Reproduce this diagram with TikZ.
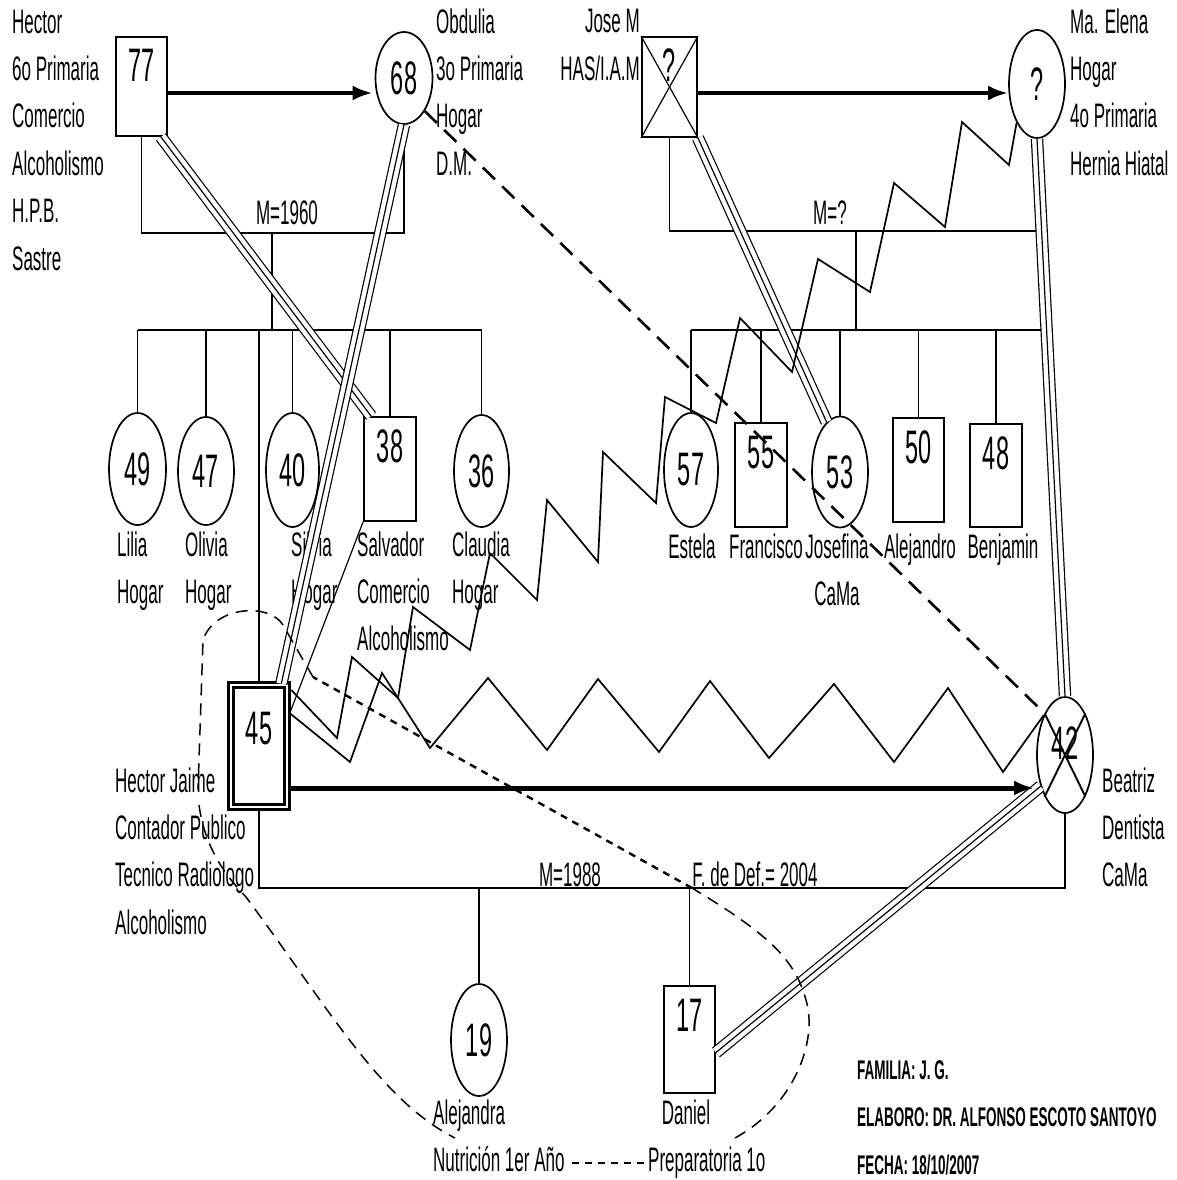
\documentclass[tikz,border=0pt]{standalone}
\usepackage{fontspec}
\setmainfont{Liberation Sans}[FakeStretch=0.5]
\usetikzlibrary{shapes.geometric,arrows.meta}

\newcommand{\lblfont}{\fontsize{34}{47.4}\selectfont}
\newcommand{\numfont}{\fontsize{47}{47}\selectfont}

\begin{document}
\begin{tikzpicture}[x=1pt, y=-1pt, >={Latex[length=20pt,width=15pt]},
    line/.style={line width=1.9pt},
    male/.style={draw, line width=1.9pt, rectangle, inner sep=0pt, minimum width=51pt,
        text height=45pt, text depth=#1, font=\numfont},
    female/.style={draw, line width=1.7pt, ellipse, inner sep=0pt, font=\numfont},
    lbl/.style={font=\lblfont, align=left, inner sep=0pt, anchor=base west},
    rel/.style={line width=4pt, ->},
    zig/.style={line width=1.7pt, line join=miter},
    fused/.style={line width=1.2pt, double, double distance=10pt},
    thinline/.style={line width=1.2pt},
    dist/.style={line width=2.6pt, dash pattern=on 17pt off 10pt},
    home/.style={line width=1.5pt, dash pattern=on 12pt off 8pt},
    homeshort/.style={line width=2.4pt, dash pattern=on 7pt off 6pt}]
    \useasboundingbox (0,0) rectangle (1177,1180);

    % ==== FIRST GENERATION ====
    \node[male=54] (b77) at (141.5,86.5) {77};
    \node[female, minimum width=57pt, minimum height=92pt] (c68) at (404,78) {68};
    \node[male=55, minimum width=55pt] (bJose) at (669.5,87) {?};
    \node[female, minimum width=56pt, minimum height=108pt] (cElena) at (1037,84) {?};
    \draw[thinline] (bJose.north west) -- (bJose.south east);
    \draw[thinline] (bJose.north east) -- (bJose.south west);

    % labels sit on the baseline of their last line
    \node[lbl] (tHector) at (12,270) {Hector\\6o Primaria\\Comercio\\Alcoholismo\\H.P.B.\\Sastre};
    \node[lbl] (tObdulia) at (436,175.2) {Obdulia\\3o Primaria\\Hogar\\D.M.};
    \node[lbl, align=right, anchor=base east] (tJose) at (640,80.4) {Jose M\\HAS/I.A.M};
    \node[lbl] (tElena) at (1070,175.2) {Ma. Elena\\Hogar\\4o Primaria\\Hernia Hiatal};

    % ==== SECOND GENERATION ====
    \node[female, minimum width=57pt, minimum height=112pt] (c49) at (137.5,469) {49};
    \node[female, minimum width=56pt, minimum height=108pt] (c47) at (206,471) {47};
    \node[female, minimum width=53pt, minimum height=114pt] (c40) at (292.5,470) {40};
    \node[male=59, minimum width=52pt] (b38) at (390,469) {38};
    \node[female, minimum width=55pt, minimum height=112pt] (c36) at (481.5,471) {36};
    \node[female, minimum width=54pt, minimum height=114pt] (c57) at (691,470) {57};
    \node[male=59, minimum width=52pt] (b55) at (761,475) {55};
    \node[female, minimum width=56pt, minimum height=111pt] (c53) at (840,472) {53};
    \node[male=59] (b50) at (918.5,470) {50};
    \node[male=58, minimum width=52pt] (b48) at (996,475.5) {48};
    \node[male=63, text height=59pt, minimum width=56pt, double, double distance=2pt,
        line width=2.6pt] (b45) at (259,746) {45};
    \node[female, minimum width=56pt, minimum height=116pt, text depth=24pt] (c42) at (1065,755) {42};
    \draw[line] (c42.north west) -- (c42.south east);
    \draw[line] (c42.north east) -- (c42.south west);

    \node[lbl] (tLilia) at (117,603.4) {Lilia\\Hogar};
    \node[lbl] (tOlivia) at (185,603.4) {Olivia\\Hogar};
    \node[lbl] (tSilvia) at (291,603.4) {Silvia\\Hogar};
    \node[lbl] (tSalvador) at (357,650.8) {Salvador\\Comercio\\Alcoholismo};
    \node[lbl] (tClaudia) at (452,603.4) {Claudia\\Hogar};
    \node[lbl, anchor=base] (tEstela) at (692,558) {Estela};
    \node[lbl, anchor=base] (tFrancisco) at (766,558) {Francisco};
    \node[lbl, align=center, anchor=base] (tJosefina) at (837,605.4) {Josefina\\CaMa};
    \node[lbl, anchor=base] (tAlejandro) at (920,558) {Alejandro};
    \node[lbl, anchor=base] (tBenjamin) at (1003,558) {Benjamin};
    \node[lbl] (tHJ) at (115,934.2) {Hector Jaime\\Contador Publico\\Tecnico Radiologo\\Alcoholismo};
    \node[lbl] (tBeatriz) at (1102,886.8) {Beatriz\\Dentista\\CaMa};

    % ==== THIRD GENERATION ====
    \node[female, minimum width=56pt, minimum height=112pt] (c19) at (479,1040) {19};
    \node[male=62] (b17) at (689.5,1039.5) {17};
    \node[lbl] (tAlejandra) at (433,1171.4) {Alejandra\\Nutrición 1er Año};
    \node[lbl, anchor=base] (tDaniel) at (686,1124) {Daniel};
    \node[lbl] (tPrep) at (648,1171.4) {Preparatoria 1o};

    % ==== MARRIAGES AND CHILDREN ====
    \coordinate (mar1) at (272,233);
    \coordinate (sib1) at (272,330);
    \coordinate (mar2) at (856,231);
    \coordinate (sib2) at (856,330);
    \coordinate (sib2end) at (1048,330);
    \coordinate (mar3) at (584,888);
    \draw[line] (b77.south) -- (b77.south |- mar1) -| (c68.south);
    \draw[line] (mar1) -- (sib1);
    \draw[line] (c49.north |- sib1) -- (c36.north |- sib1);
    \foreach \p in {c49,c47,c40,b38,c36,b45}
        \draw[line] (\p.north |- sib1) -- (\p.north);
    \node[lbl, anchor=base] (tM1960) at (287,224) {M=1960};

    \draw[line] (bJose.south) -- (bJose.south |- mar2) -| (cElena.south);
    \draw[line] (mar2) -- (sib2);
    \draw[line] (c57.north |- sib2) -- (sib2end);
    \foreach \p in {c57,b55,c53,b50,b48}
        \draw[line] (\p.north |- sib2) -- (\p.north);
    \node[lbl, anchor=base] (tMq) at (830,224) {M=?};

    \draw[line] (b45.south) -- (b45.south |- mar3) -| (c42.south);
    \foreach \p in {c19,b17}
        \draw[line] (\p.north |- mar3) -- (\p.north);
    \node[lbl, anchor=base] (tM1988) at (570,886) {M=1988};
    \node[lbl, anchor=base] (tFdef) at (755,886) {F. de Def.= 2004};

    % ==== FUSED RELATIONS ====
    \draw[fused] ([xshift=-7pt]b77.south east) -- ([xshift=8pt]b38.north west);
    \draw[thinline] ([xshift=-7pt]b77.south east) -- ([xshift=8pt]b38.north west);
    \draw[fused] (c68.south) -- ([xshift=-7pt]b45.north east);
    \draw[thinline] (c68.south) -- ([xshift=-7pt]b45.north east);
    \draw[fused] (bJose.south east) -- (c53.105);
    \draw[thinline] (bJose.south east) -- (c53.105);
    \draw[fused] (cElena.south) -- (c42.north);
    \draw[thinline] (cElena.south) -- (c42.north);
    \draw[fused] ([yshift=-13pt]b17.east) -- (c42.232);
    \draw[thinline] ([yshift=-13pt]b17.east) -- (c42.232);
    \draw[thinline] (b38.south west) -- ([yshift=29pt]b45.east);

    % ==== UNIONS ====
    \draw[rel] ([yshift=-6.5pt]b77.east) -- ([xshift=-2pt,yshift=-15pt]c68.west);
    \draw[rel] ([yshift=-6pt]bJose.east) -- ([yshift=-9pt]cElena.west);
    \draw[rel, line width=5pt] ([yshift=-42pt]b45.east) -- ([xshift=-2pt,yshift=-33pt]c42.west);

    % ==== CONFLICTS ====
    \coordinate (zc) at (490,553);
    \draw[zig] ([yshift=34pt]b45.east) -- (350,762) -- (382,673) -- (430,748) -- (488,678)
        -- (547,750) -- (598,679) -- (659,752) -- (710,681) -- (769,758) -- (834,684)
        -- (894,762) -- (948,688) -- (1003,772) -- (c42.118);
    \draw[zig] (zc) -- (470,650) -- (413,607) -- (398,698) -- (352,657) -- (337,738)
        -- ([xshift=3pt,yshift=56pt]b45.east);
    \draw[zig] (zc) -- (537,600) -- (547,500) -- (598,562) -- (603,452) -- (656,503)
        -- (665,397) -- (716,423) -- (740,318) -- (792,372) -- (818,259) -- (870,292)
        -- (894,183) -- (945,227) -- (962,122) -- (1009,165) -- (cElena.south west);

    % ==== DISTANT ====
    \draw[dist, shorten >=6pt] (c68.south east) -- (c42.north west);

    % ==== HOUSEHOLD ====
    \draw[home] (313,677) -- (283,625) .. controls (270,603) and (215,605) .. (203,640) -- (198,790);
    \draw[home] (199,805) .. controls (205,850) and (228,878) .. (246,897)
        .. controls (330,1010) and (380,1100) .. (455,1138);
    \draw[homeshort] (572,1163) -- (647,1163);
    \draw[home] (735,1138) .. controls (795,1105) and (818,1040) .. (806,1000)
        .. controls (795,960) and (770,935) .. (692,888);
    \draw[homeshort] (692,888) -- (313,677);

    % ==== FOOTER ====
    \node[lbl, font=\bfseries\fontsize{27}{47.5}\selectfont] (tFooter) at (857,1174)
        {FAMILIA: J. G.\\ELABORO: DR. ALFONSO ESCOTO SANTOYO\\FECHA: 18/10/2007};
\end{tikzpicture}
\end{document}
